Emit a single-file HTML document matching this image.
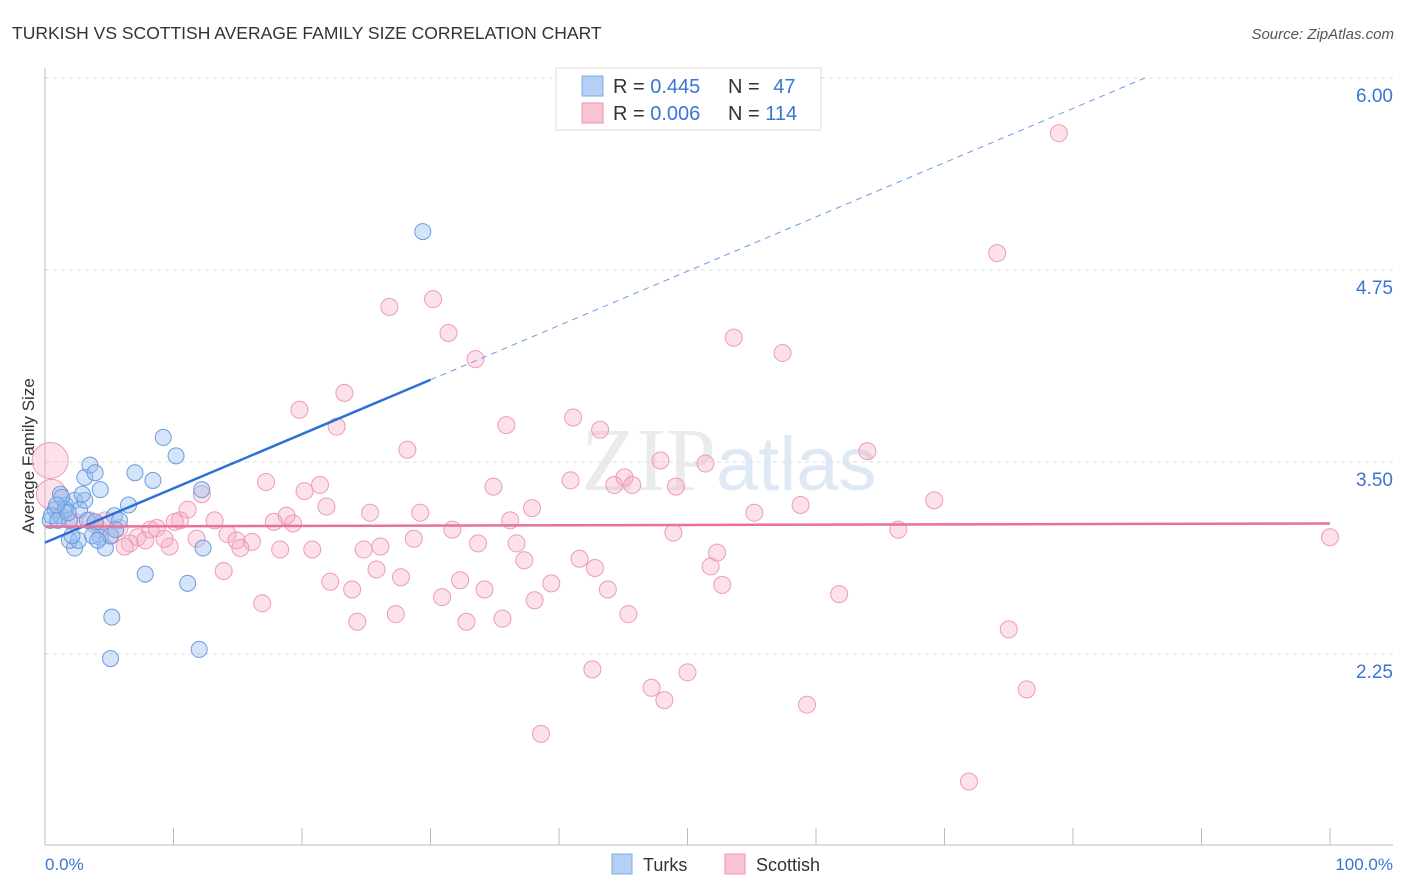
<!DOCTYPE html>
<html><head><meta charset="utf-8"><style>
body{margin:0;background:#fff;font-family:"Liberation Sans",sans-serif;}
svg{display:block}
</style></head><body>
<svg id="chart" width="1406" height="892" xmlns="http://www.w3.org/2000/svg">
<text x="12" y="39" font-size="17.5" fill="#333">TURKISH VS SCOTTISH AVERAGE FAMILY SIZE CORRELATION CHART</text>
<text x="1394" y="39" font-size="15" fill="#555" font-style="italic" text-anchor="end">Source: ZipAtlas.com</text>
<text transform="translate(34,456) rotate(-90)" font-size="17" fill="#333" text-anchor="middle">Average Family Size</text>
<text x="716" y="490" font-size="90" fill="#ebebeb" font-family="Liberation Serif,serif" text-anchor="end">ZIP</text>
<text x="716" y="490" font-size="76" fill="#dfe9f6" text-anchor="start">atlas</text>
<g id="grid"></g><g id="axes"></g><g id="pink"></g><g id="blue"></g><g id="lines"></g>
<g>
<rect x="556" y="68" width="265" height="62" fill="#fff" stroke="#ddd"/>
<rect x="582" y="76" width="21" height="20" fill="#b6d0f5" stroke="#7fa8e3"/>
<rect x="582" y="103" width="21" height="20" fill="#f9c4d4" stroke="#ec93ae"/>
<text x="613" y="93" font-size="20" fill="#333">R = <tspan fill="#3a74d4">0.445</tspan></text>
<text x="728" y="93" font-size="20" fill="#333">N = <tspan fill="#3a74d4" dx="8">47</tspan></text>
<text x="613" y="120" font-size="20" fill="#333">R = <tspan fill="#3a74d4">0.006</tspan></text>
<text x="728" y="120" font-size="20" fill="#333">N = <tspan fill="#3a74d4">114</tspan></text>
</g>
<g>
<rect x="612" y="854" width="20" height="20" fill="#b6d0f5" stroke="#7fa8e3"/>
<text x="643" y="871" font-size="18" fill="#333">Turks</text>
<rect x="725" y="854" width="20" height="20" fill="#f9c4d4" stroke="#ec93ae"/>
<text x="756" y="871" font-size="18" fill="#333">Scottish</text>
</g>
<text x="45" y="870" font-size="17" fill="#3a74d4">0.0%</text>
<text x="1393" y="870" font-size="17" fill="#3a74d4" text-anchor="end">100.0%</text>
</svg>
<script>
const yTicks=[2.25,3.5,4.75,6.0];
const yTickLabels=["2.25","3.50","4.75","6.00"];
const turksX=[0.4,0.8,1.2,1.6,1.9,1.2,1.6,2.3,2.7,3.1,3.1,3.5,3.9,4.3,2.9,3.3,3.9,4.3,4.7,2.3,1.9,5.1,5.4,5.8,6.5,7.0,8.4,9.2,10.2,12.2,12.3,7.8,11.1,5.2,5.1,12.0,29.4,0.5,1.0,1.8,2.6,3.7,4.1,2.1,1.3,0.9,5.5];
const turksY=[3.12,3.19,3.15,3.22,3.12,3.29,3.19,3.25,3.19,3.25,3.40,3.48,3.43,3.32,3.29,3.12,3.11,3.01,2.94,2.94,2.99,3.02,3.15,3.12,3.22,3.43,3.38,3.66,3.54,3.32,2.94,2.77,2.71,2.49,2.22,2.28,5.00,3.15,3.12,3.17,2.99,3.02,2.99,3.02,3.27,3.22,3.06];
const scotX=[78.9,74.1,30.2,26.8,31.4,33.5,53.6,57.4,23.3,19.8,22.7,35.9,41.1,43.2,28.2,64.0,47.9,51.4,17.2,20.2,21.4,34.9,40.9,44.3,45.1,45.7,49.1,69.2,58.8,55.2,21.9,25.3,29.2,37.9,36.2,18.8,13.2,11.1,12.2,10.5,10.1,8.7,8.2,7.2,6.6,6.2,5.1,4.3,3.9,3.5,4.7,2.3,1.9,0.4,0.5,14.2,14.9,16.1,15.2,18.3,19.3,17.8,20.8,24.8,26.1,28.7,31.7,33.7,36.7,48.9,66.4,100,52.3,51.8,41.6,42.8,37.3,25.8,27.7,22.2,23.9,32.3,34.2,39.4,43.8,52.7,61.8,30.9,38.1,16.9,27.3,24.3,32.8,35.6,45.4,75.0,42.6,50.0,47.2,48.2,59.3,76.4,38.6,71.9,13.9,11.8,9.7,7.8,9.3,5.8];
const scotY=[5.64,4.86,4.56,4.51,4.34,4.17,4.31,4.21,3.95,3.84,3.73,3.74,3.79,3.71,3.58,3.57,3.51,3.49,3.37,3.31,3.35,3.34,3.38,3.35,3.40,3.35,3.34,3.25,3.22,3.17,3.21,3.17,3.17,3.20,3.12,3.15,3.12,3.19,3.29,3.12,3.11,3.07,3.06,3.01,2.97,2.95,3.02,3.06,3.09,3.12,3.12,3.11,3.12,3.51,3.29,3.03,2.99,2.98,2.94,2.93,3.10,3.11,2.93,2.93,2.95,3.00,3.06,2.97,2.97,3.04,3.06,3.01,2.91,2.82,2.87,2.81,2.86,2.80,2.75,2.72,2.67,2.73,2.67,2.71,2.67,2.70,2.64,2.62,2.60,2.58,2.51,2.46,2.46,2.48,2.51,2.41,2.15,2.13,2.03,1.95,1.92,2.02,1.73,1.42,2.79,3.00,2.95,2.99,3.00,3.07];
const turksTrend=[2.975,0.03534];
const scotTrend=[3.08,0.0002];
const NS="http://www.w3.org/2000/svg";
const X=v=>45+v*12.85, Y=v=>654-(v-2.25)*153.6;
function mk(tag,attrs,parent){const e=document.createElementNS(NS,tag);for(const k in attrs)e.setAttribute(k,attrs[k]);document.getElementById(parent).appendChild(e);return e;}
yTicks.forEach((t,i)=>{
 const l=mk('line',{x1:45,x2:1393,y1:Y(t),y2:Y(t),stroke:'#ddd','stroke-dasharray':'4,4'},'grid');
 
 
 const tx=mk('text',{x:1393,y:Y(t)+24,'font-size':19,fill:'#3a74d4','text-anchor':'end'},'grid');
 tx.textContent=yTickLabels[i];
 
 
});
const ax=mk('line',{x1:45,x2:45,y1:68,y2:845,stroke:'#bbb'},'axes');


const bx=mk('line',{x1:45,x2:1393,y1:845,y2:845,stroke:'#bbb'},'axes');


for(let p=0;p<=100;p+=10){
 const t=mk('line',{x1:X(p),x2:X(p),y1:828,y2:845,stroke:'#bbb'},'axes');
 
 
}
scotX.forEach((x,i)=>{
 const r=(x<1)?(scotY[i]>3.4?18:15):8.5;
 const c=mk('circle',{cx:X(x),cy:Y(scotY[i]),r:r,fill:'rgba(246,170,195,0.35)',stroke:'#ee9bb6','stroke-width':1},'pink');
 
 
});
turksX.forEach((x,i)=>{
 const c=mk('circle',{cx:X(x),cy:Y(turksY[i]),r:8,fill:'rgba(150,190,240,0.4)',stroke:'#6b9be0','stroke-width':1},'blue');
 
 
});
const f=(tr,x)=>tr[0]+tr[1]*x;
const l1=mk('line',{x1:X(0),y1:Y(f(turksTrend,0)),x2:X(30),y2:Y(f(turksTrend,30)),stroke:'#2f6fd6','stroke-width':2.5},'lines');


const xe=(6.0-turksTrend[0])/turksTrend[1];
const l2=mk('line',{x1:X(30),y1:Y(f(turksTrend,30)),x2:X(xe),y2:Y(f(turksTrend,xe)),stroke:'#6b9be0','stroke-width':1,'stroke-dasharray':'6,5'},'lines');


const l3=mk('line',{x1:X(0),y1:Y(f(scotTrend,0)),x2:X(100),y2:Y(f(scotTrend,100)),stroke:'#e7729a','stroke-width':2.5},'lines');


</script>
</body></html>
